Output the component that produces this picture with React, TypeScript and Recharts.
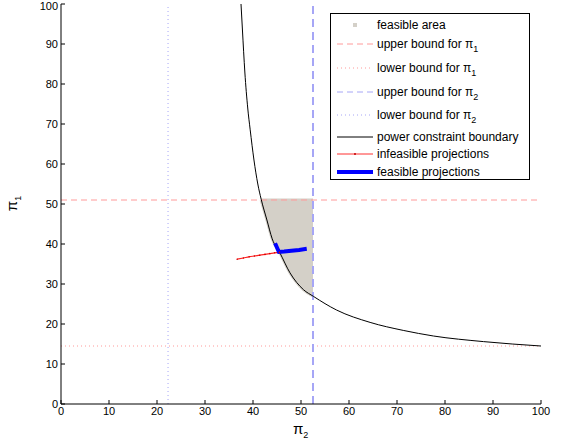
import { ComposedChart, Line, Area, XAxis, YAxis, ReferenceLine } from 'recharts'

// power constraint boundary (pi2, pi1)
const curvePi2 = [37.5, 37.8, 38.3, 38.9, 39.4, 40.2, 41, 41.7, 42.9, 44, 45.6, 47.7, 50.5, 52.6, 57.4, 64.4, 71.3, 77.6, 88, 100]
const curvePi1 = [100, 93.5, 83, 74, 68.7, 61, 55, 51.2, 46, 41.3, 37.8, 32.8, 28.6, 26.9, 23.5, 20.4, 18.4, 17.0, 15.6, 14.5]

// feasible region: between the boundary and the upper bound of pi1
const areaPi2 = [41.7, 42.9, 44, 45.6, 47.7, 50.5, 52.5]
const areaLow = [51, 46, 41.3, 37.8, 32.8, 28.6, 27.0]

// projections
const infeasPi2 = [36.7, 38, 39.2, 40.3, 41.4, 42.5, 43.5, 44.5, 45.5]
const infeasPi1 = [36.2, 36.5, 36.8, 37.0, 37.2, 37.4, 37.6, 37.8, 37.9]
const feasPi2 = [44.6, 45.4, 46.5, 48, 49.6, 51.2]
const feasPi1 = [40.2, 38.0, 38.1, 38.3, 38.5, 38.8]

// bounds
const upperPi1 = 51
const lowerPi1 = 14.5
const upperPi2 = 52.5
const lowerPi2 = 22.3

const ticks = [0, 10, 20, 30, 40, 50, 60, 70, 80, 90, 100]

const curveData = curvePi2.map((x, i) => ({ x, y: curvePi1[i] }))
const areaData = areaPi2.map((x, i) => ({ x, range: [areaLow[i], upperPi1] }))
const infeasData = infeasPi2.map((x, i) => ({ x, y: infeasPi1[i] }))
const feasData = feasPi2.map((x, i) => ({ x, y: feasPi1[i] }))

const FONT = '"Liberation Sans", Arial, sans-serif'
const PINK = '#ff9a9a'
const LBLUE = '#a6a6f6'
const GRAY = '#d4d0c8'

const tickStyle = { fontSize: 11, fill: '#000', fontFamily: FONT }

function Pi({ sub }: { sub: string }) {
  return (
    <span>
      π<sub style={{ fontSize: 9, verticalAlign: -4, lineHeight: 0 }}>{sub}</sub>
    </span>
  )
}

const legendRows = [
  { key: 'area', label: <span>feasible area</span>, center: 11 },
  { key: 'u1', label: <span>upper bound for <Pi sub="1" /></span>, center: 30 },
  { key: 'l1', label: <span>lower bound for <Pi sub="1" /></span>, center: 54 },
  { key: 'u2', label: <span>upper bound for <Pi sub="2" /></span>, center: 78 },
  { key: 'l2', label: <span>lower bound for <Pi sub="2" /></span>, center: 101 },
  { key: 'pc', label: <span>power constraint boundary</span>, center: 123 },
  { key: 'inf', label: <span>infeasible projections</span>, center: 140 },
  { key: 'fea', label: <span>feasible projections</span>, center: 158 },
]

function Sample({ k }: { k: string }) {
  const w = 36
  return (
    <svg width={w} height={10}>
      {k === 'area' && <rect x={16} y={3} width={4} height={4} fill={GRAY} />}
      {k === 'u1' && <line x1={0} x2={w} y1={5} y2={5} stroke={PINK} strokeDasharray="6 4" />}
      {k === 'l1' && <line x1={0} x2={w} y1={5} y2={5} stroke={PINK} strokeDasharray="1 3" />}
      {k === 'u2' && <line x1={0} x2={w} y1={5} y2={5} stroke={LBLUE} strokeDasharray="6 4" />}
      {k === 'l2' && <line x1={0} x2={w} y1={5} y2={5} stroke={LBLUE} strokeDasharray="1 3" />}
      {k === 'pc' && <line x1={0} x2={w} y1={5} y2={5} stroke="#000" />}
      {k === 'inf' && (
        <g>
          <line x1={0} x2={w} y1={5} y2={5} stroke="#ff3030" />
          <circle cx={18} cy={5} r={1} fill="#c00000" />
        </g>
      )}
      {k === 'fea' && <line x1={0} x2={w} y1={5} y2={5} stroke="#0000ff" strokeWidth={4} />}
    </svg>
  )
}

function LegendBox() {
  return (
    <div
      style={{
        position: 'absolute',
        left: 330,
        top: 13,
        width: 200,
        height: 167,
        border: '1px solid #000',
        background: '#fff',
        boxSizing: 'border-box',
        fontFamily: FONT,
        fontSize: 12,
        color: '#000',
      }}
    >
      {legendRows.map(r => (
        <div
          key={r.key}
          style={{
            position: 'absolute',
            left: 6,
            top: r.center - 9,
            height: 18,
            display: 'flex',
            alignItems: 'center',
            whiteSpace: 'nowrap',
          }}
        >
          <Sample k={r.key} />
          <span style={{ marginLeft: 4 }}>{r.label}</span>
        </div>
      ))}
    </div>
  )
}

export default function App() {
  return (
    <div style={{ position: 'absolute', left: 0, top: 0, width: 566, height: 444, background: '#fff' }}>
      <ComposedChart width={566} height={444} margin={{ top: 4, right: 25, bottom: 0, left: 31 }}>
        <XAxis
          xAxisId="b"
          dataKey="x"
          type="number"
          domain={[0, 100]}
          ticks={ticks}
          allowDataOverflow
          height={40}
          tickSize={-4}
          tickMargin={7}
          stroke="#000"
          tick={tickStyle}
        />
        <XAxis
          xAxisId="t"
          orientation="top"
          type="number"
          domain={[0, 100]}
          ticks={ticks}
          height={0}
          tickSize={-4}
          tick={false}
          stroke="#000"
        />
        <YAxis
          yAxisId="l"
          type="number"
          domain={[0, 100]}
          ticks={ticks}
          allowDataOverflow
          width={30}
          tickSize={-4}
          tickMargin={7}
          stroke="#000"
          tick={tickStyle}
        />
        <YAxis
          yAxisId="r"
          orientation="right"
          type="number"
          domain={[0, 100]}
          ticks={ticks}
          width={0}
          tickSize={-4}
          tick={false}
          stroke="#000"
        />
        <Area
          xAxisId="b"
          yAxisId="l"
          data={areaData}
          dataKey="range"
          type="monotone"
          fill={GRAY}
          fillOpacity={1}
          stroke={GRAY}
          strokeWidth={3}
          isAnimationActive={false}
        />
        <ReferenceLine xAxisId="b" yAxisId="l" y={upperPi1} stroke={PINK} strokeDasharray="6 4" />
        <ReferenceLine xAxisId="b" yAxisId="l" y={lowerPi1} stroke={PINK} strokeDasharray="1 3" />
        <ReferenceLine xAxisId="b" yAxisId="l" x={upperPi2} stroke={LBLUE} strokeWidth={2} strokeDasharray="8 5" />
        <ReferenceLine xAxisId="b" yAxisId="l" x={lowerPi2} stroke={LBLUE} strokeDasharray="1 3" />
        <Line
          xAxisId="b"
          yAxisId="l"
          data={curveData}
          dataKey="y"
          type="monotone"
          stroke="#000"
          strokeWidth={1}
          dot={false}
          isAnimationActive={false}
        />
        <Line
          xAxisId="b"
          yAxisId="l"
          data={infeasData}
          dataKey="y"
          type="monotone"
          stroke="#ff2020"
          strokeWidth={1.2}
          dot={{ r: 0.8, fill: '#d00000', stroke: 'none' }}
          isAnimationActive={false}
        />
        <Line
          xAxisId="b"
          yAxisId="l"
          data={feasData}
          dataKey="y"
          type="linear"
          stroke="#0000ff"
          strokeWidth={4}
          dot={false}
          isAnimationActive={false}
        />
      </ComposedChart>
      <LegendBox />
      <div
        style={{
          position: 'absolute',
          left: 293,
          top: 420,
          fontFamily: FONT,
          fontSize: 15,
          color: '#000',
        }}
      >
        <Pi sub="2" />
      </div>
      <div
        style={{
          position: 'absolute',
          left: 4,
          top: 195,
          fontFamily: FONT,
          fontSize: 15,
          color: '#000',
          transform: 'rotate(-90deg)',
        }}
      >
        <Pi sub="1" />
      </div>
    </div>
  )
}
